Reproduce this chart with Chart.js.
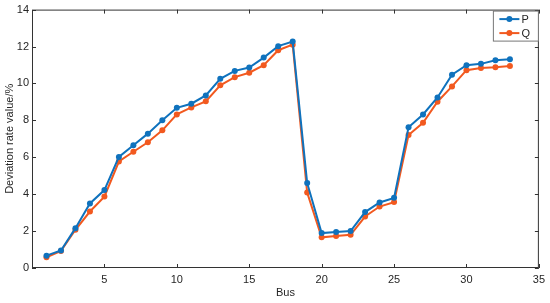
<!DOCTYPE html>
<html>
<head>
<meta charset="utf-8">
<script src="https://cdn.jsdelivr.net/npm/chart.js@4"></script>
<style>
  html, body { margin: 0; padding: 0; background: #fff; }
  #wrap { width: 550px; height: 303px; }
</style>
</head>
<body>
<div id="wrap"><canvas id="chart"></canvas></div>
<script>
// Bus numbers 1..33
const buses = [1, 2, 3, 4, 5, 6, 7, 8, 9, 10, 11, 12, 13, 14, 15, 16, 17,
  18, 19, 20, 21, 22, 23, 24, 25, 26, 27, 28, 29, 30, 31, 32, 33];

// Deviation rate values (%)
const pValues = [0.67, 0.95, 2.16, 3.50, 4.22, 6.02, 6.65, 7.28, 8.00, 8.68, 8.90,
  9.35, 10.25, 10.68, 10.86, 11.40, 12.02, 12.27, 4.61, 1.89, 1.95, 2.00, 3.03,
  3.55, 3.80, 7.62, 8.32, 9.24, 10.47, 10.99, 11.06, 11.26, 11.31];
const qValues = [0.58, 0.92, 2.07, 3.06, 3.87, 5.77, 6.30, 6.81, 7.46, 8.32, 8.70,
  9.03, 9.90, 10.34, 10.58, 10.99, 11.80, 12.10, 4.09, 1.66, 1.73, 1.80, 2.79,
  3.33, 3.57, 7.21, 7.87, 9.01, 9.84, 10.72, 10.84, 10.88, 10.95];

const xTicks = [5, 10, 15, 20, 25, 30, 35];
const yTicks = [0, 2, 4, 6, 8, 10, 12, 14];

const blue = '#0F72BD';
const orange = '#F2591F';
const axisColor = '#333333';
const font = { family: '"Liberation Sans", Arial, sans-serif', size: 11 };

// MATLAB-style box with inward ticks plus a boxed legend in the top-right
const boxPlugin = {
  id: 'boxPlugin',
  afterDraw(chart) {
    const { ctx, chartArea: a, scales } = chart;
    ctx.save();
    ctx.strokeStyle = axisColor;
    ctx.lineWidth = 1;
    ctx.strokeRect(a.left + 0.5, a.top + 0.5, a.right - a.left - 1, a.bottom - a.top - 1);
    const t = 4;
    ctx.beginPath();
    xTicks.forEach(v => {
      const x = Math.round(scales.x.getPixelForValue(v)) + 0.5;
      ctx.moveTo(x, a.bottom); ctx.lineTo(x, a.bottom - t);
      ctx.moveTo(x, a.top); ctx.lineTo(x, a.top + t);
    });
    yTicks.forEach(v => {
      const y = Math.round(scales.y.getPixelForValue(v)) + 0.5;
      ctx.moveTo(a.left, y); ctx.lineTo(a.left + t, y);
      ctx.moveTo(a.right, y); ctx.lineTo(a.right - t, y);
    });
    ctx.stroke();

    // legend
    const bw = 45, bh = 30;
    const bx = a.right - bw - 0.5, by = a.top + 1.5;
    ctx.fillStyle = '#fff';
    ctx.fillRect(bx, by, bw, bh);
    ctx.strokeStyle = '#777';
    ctx.strokeRect(bx, by, bw, bh);
    chart.data.datasets.forEach((ds, i) => {
      const y = by + 8 + i * 14;
      ctx.strokeStyle = ds.borderColor;
      ctx.lineWidth = 2;
      ctx.beginPath();
      ctx.moveTo(bx + 6, y); ctx.lineTo(bx + 26, y);
      ctx.stroke();
      ctx.fillStyle = ds.borderColor;
      ctx.beginPath();
      ctx.arc(bx + 16, y, 3, 0, Math.PI * 2);
      ctx.fill();
      ctx.fillStyle = '#262626';
      ctx.font = '11px "Liberation Sans", Arial, sans-serif';
      ctx.textBaseline = 'middle';
      ctx.fillText(ds.label, bx + 28, y + 0.5);
    });
    ctx.restore();
  }
};

new Chart(document.getElementById('chart'), {
  type: 'line',
  data: {
    datasets: [
      {
        label: 'P',
        data: buses.map((b, i) => ({ x: b, y: pValues[i] })),
        borderColor: blue,
        backgroundColor: blue,
        borderWidth: 2,
        pointRadius: 3,
        pointBorderWidth: 0,
        tension: 0
      },
      {
        label: 'Q',
        data: buses.map((b, i) => ({ x: b, y: qValues[i] })),
        borderColor: orange,
        backgroundColor: orange,
        borderWidth: 2,
        pointRadius: 3,
        pointBorderWidth: 0,
        tension: 0
      }
    ]
  },
  options: {
    responsive: true,
    maintainAspectRatio: false,
    animation: false,
    layout: { padding: { left: 0, top: 9, right: 10, bottom: 0 } },
    plugins: {
      legend: { display: false },
      tooltip: { enabled: false }
    },
    scales: {
      x: {
        type: 'linear',
        min: 0,
        max: 35,
        afterBuildTicks: s => { s.ticks = [0].concat(xTicks).map(v => ({ value: v })); },
        afterFit: s => { s.height = 35; },
        grid: { display: false, drawTicks: false },
        border: { display: false },
        ticks: {
          font: font,
          color: '#262626',
          padding: 5,
          maxRotation: 0,
          callback: v => (v === 0 ? '' : v)
        },
        title: {
          display: true,
          text: 'Bus',
          font: font,
          color: '#262626',
          padding: { top: 0, bottom: 3 }
        }
      },
      y: {
        min: 0,
        max: 14,
        afterBuildTicks: s => { s.ticks = yTicks.map(v => ({ value: v })); },
        afterFit: s => { s.width = 32; },
        grid: { display: false, drawTicks: false },
        border: { display: false },
        ticks: { font: font, color: '#262626', padding: 3 },
        title: {
          display: true,
          text: 'Deviation rate value/%',
          font: font,
          color: '#262626',
          padding: { top: 3, bottom: 0 }
        }
      }
    }
  },
  plugins: [boxPlugin]
});
</script>
</body>
</html>
